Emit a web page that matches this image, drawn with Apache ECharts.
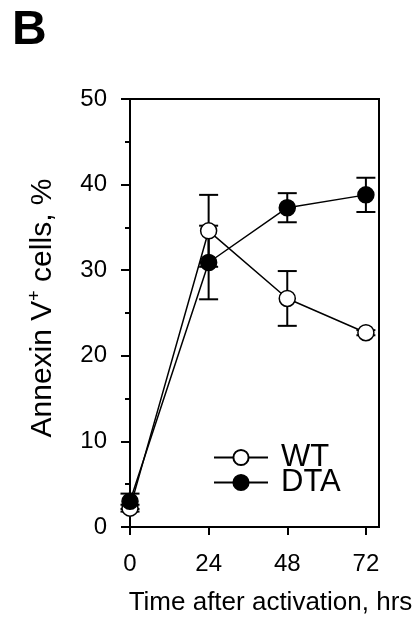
<!DOCTYPE html>
<html>
<head>
<meta charset="utf-8">
<script src="https://cdn.jsdelivr.net/npm/echarts@6/dist/echarts.min.js"></script>
<style>
  html, body { margin: 0; padding: 0; background: #fff; }
  #chart { width: 413px; height: 621px; }
</style>
</head>
<body>
<div id="chart"></div>
<script>
// time after activation (hrs)
const hours = [0, 24, 48, 72];
const xTicks = [0, 24, 48, 72];
// Annexin V+ cells, % (mean and error)
const wtMean = [2.2, 34.6, 26.7, 22.7];
const wtErr = [0.4, 4.2, 3.2, 0.3];
const dtaMean = [3.0, 30.9, 37.3, 38.8];
const dtaErr = [0.9, 4.3, 1.7, 2.0];

const font = 'Liberation Sans, Arial, sans-serif';

function pairs(ys) {
  return hours.map((h, i) => [h, ys[i]]);
}
function errData(ys, es) {
  return hours.map((h, i) => [h, ys[i] - es[i], ys[i] + es[i]]);
}
// error bars with caps
function errRender(params, api) {
  const lo = api.coord([api.value(0), api.value(1)]);
  const hi = api.coord([api.value(0), api.value(2)]);
  const w = 9.5;
  const st = { stroke: '#000', lineWidth: 2 };
  return {
    type: 'group',
    children: [
      { type: 'line', shape: { x1: lo[0], y1: lo[1], x2: hi[0], y2: hi[1] }, style: st },
      { type: 'line', shape: { x1: lo[0] - w, y1: lo[1], x2: lo[0] + w, y2: lo[1] }, style: st },
      { type: 'line', shape: { x1: hi[0] - w, y1: hi[1], x2: hi[0] + w, y2: hi[1] }, style: st }
    ]
  };
}

const legendText = { fontSize: 31, lineHeight: 29, color: '#000', fontFamily: font, padding: [0, 0, 0, 8] };

const myChart = echarts.init(document.getElementById('chart'));
myChart.setOption({
  animation: false,
  textStyle: { fontFamily: font, color: '#000' },
  graphic: [{
    type: 'text', left: 12, top: 7,
    style: { text: 'B', font: 'bold 48px ' + font, fill: '#000' }
  }],
  grid: {
    left: 130, right: 34, top: 99, bottom: 94,
    outerBoundsMode: 'none',
    show: true, borderColor: '#000', borderWidth: 2
  },
  legend: [
    {
      orient: 'vertical', left: 213, top: 442, padding: 0,
      itemWidth: 54, itemHeight: 19,
      textStyle: legendText, data: ['WT']
    },
    {
      orient: 'vertical', left: 213, top: 467, padding: 0,
      itemWidth: 54, itemHeight: 19,
      textStyle: legendText, data: ['DTA']
    }
  ],
  xAxis: {
    type: 'value', min: 0, max: 76,
    name: 'Time after activation, hrs',
    nameLocation: 'middle', nameGap: 63,
    nameTextStyle: { fontSize: 26, color: '#000', fontFamily: font, padding: [0, 0, 0, 32] },
    axisLine: { onZero: false, lineStyle: { color: '#000', width: 2 } },
    axisTick: { customValues: xTicks, length: 8, lineStyle: { color: '#000', width: 2 } },
    axisLabel: { customValues: xTicks, margin: 25, fontSize: 24, color: '#000', fontFamily: font },
    splitLine: { show: false }
  },
  yAxis: {
    type: 'value', min: 0, max: 50, interval: 10,
    name: '{a|Annexin V}{s|+}{a| cells, %}',
    nameLocation: 'middle', nameGap: 72,
    nameTextStyle: {
      padding: [0, 0, 0, 10],
      rich: {
        a: { fontSize: 30, color: '#000', fontFamily: font, lineHeight: 32, verticalAlign: 'bottom' },
        s: { fontSize: 18, color: '#000', fontFamily: font, lineHeight: 32, verticalAlign: 'top' }
      }
    },
    axisLine: { show: true, lineStyle: { color: '#000', width: 2 } },
    axisTick: { length: 9, lineStyle: { color: '#000', width: 2 } },
    minorTick: { show: true, splitNumber: 2, length: 5, lineStyle: { color: '#000', width: 2 } },
    axisLabel: { margin: 23, fontSize: 24, color: '#000', fontFamily: font },
    splitLine: { show: false }
  },
  series: [
    {
      type: 'custom', name: 'wtErr', renderItem: errRender,
      data: errData(wtMean, wtErr), z: 1, silent: true
    },
    {
      type: 'custom', name: 'dtaErr', renderItem: errRender,
      data: errData(dtaMean, dtaErr), z: 1, silent: true
    },
    {
      name: 'WT', type: 'line', data: pairs(wtMean), z: 3,
      symbol: 'circle', symbolSize: 16,
      lineStyle: { color: '#000', width: 1.5 },
      itemStyle: { color: '#fff', borderColor: '#000', borderWidth: 1.5 }
    },
    {
      name: 'DTA', type: 'line', data: pairs(dtaMean), z: 4,
      symbol: 'circle', symbolSize: 16,
      lineStyle: { color: '#000', width: 1.5 },
      itemStyle: { color: '#000', borderColor: '#000', borderWidth: 1.5 }
    }
  ]
});
</script>
</body>
</html>
